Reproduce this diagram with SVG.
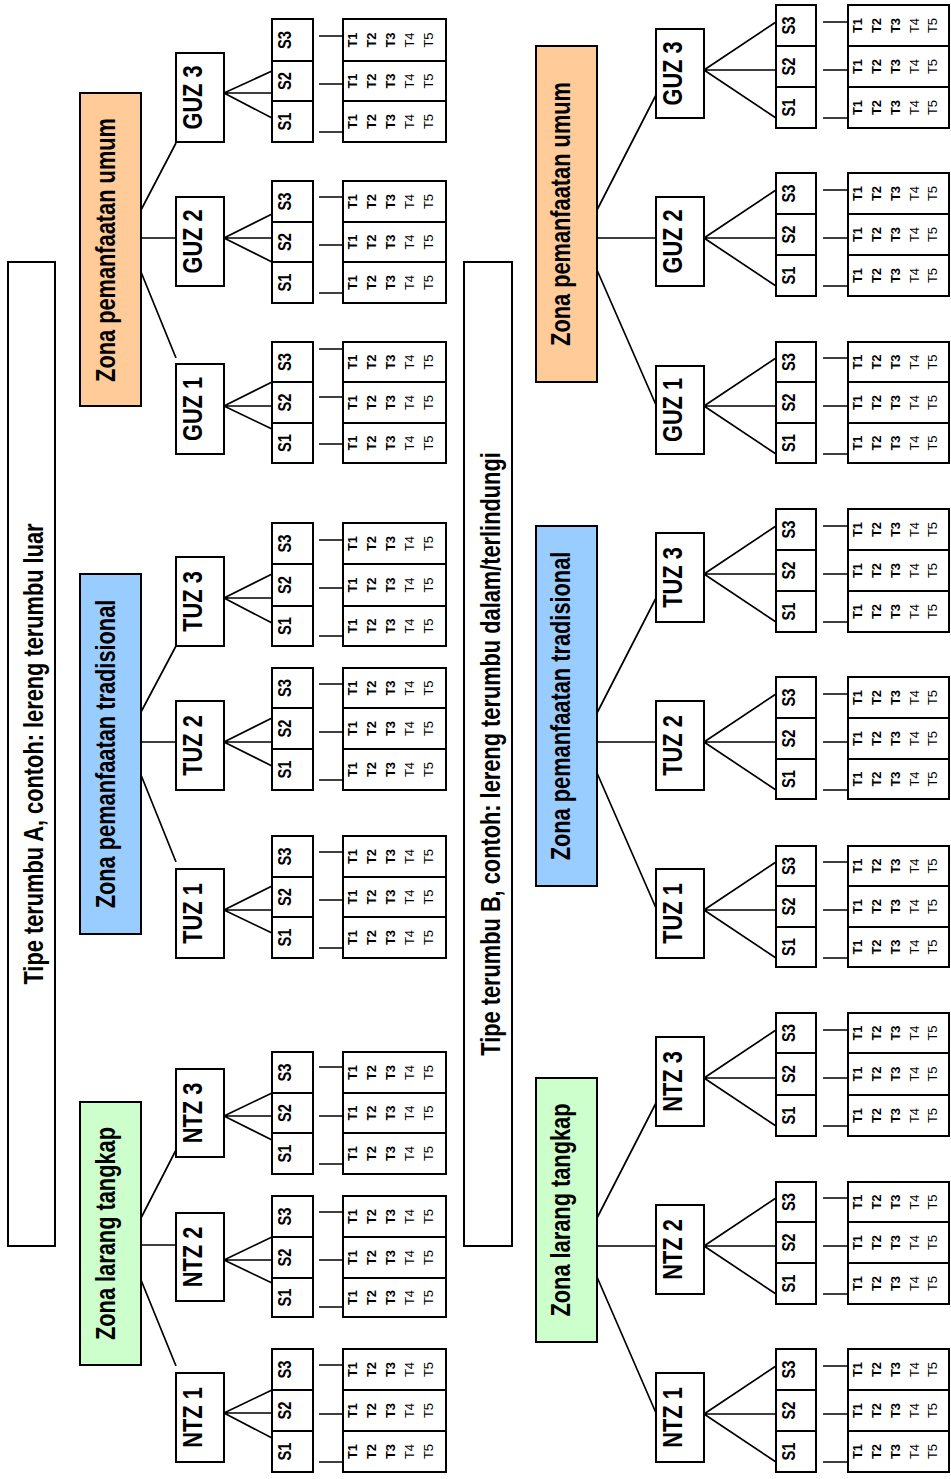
<svg xmlns="http://www.w3.org/2000/svg" width="951" height="1479" viewBox="0 0 951 1479">
<style>
.bx{fill:#fff;stroke:#000;stroke-width:2}
.zg{fill:#CCFFCC;stroke:#000;stroke-width:2}
.zb{fill:#99CCFF;stroke:#000;stroke-width:2}
.zo{fill:#FFCC99;stroke:#000;stroke-width:2}
.ln{stroke:#000;stroke-width:1.7;fill:none}
text{font-family:"Liberation Sans",Arial,Helvetica,sans-serif;fill:#000}
.L{font-size:21.8px;font-weight:bold;text-anchor:middle}
.S{font-size:14.7px;font-weight:bold;text-anchor:middle}
.T{font-size:13px;text-anchor:middle}
.b{font-weight:bold}
</style>
<rect width="951" height="1479" fill="#fff"/>
<g id="connectors" class="ln">
<path d="M141,210L176,143M141,238L176,238M141,272L176,358M141,712L176,646M141,742L176,742M141,775L176,862M141,1218L176,1150M141,1245L176,1245M141,1280L176,1366"/>
<path d="M224,93L272,71M224,93L272,93M224,93L272,118M224,238L272,214M224,238L272,238M224,238L272,262M224,406L272,382M224,406L272,406M224,406L272,429M224,598L272,574M224,598L272,598M224,598L272,623M224,742L272,718M224,742L272,742M224,742L272,766M224,910L272,886M224,910L272,910M224,910L272,933M224,1116L272,1093M224,1116L272,1116M224,1116L272,1140M224,1260L272,1237M224,1260L272,1260M224,1260L272,1283M224,1413L272,1390M224,1413L272,1413M224,1413L272,1438"/>
<path d="M319,36H343M319,84H343M319,132H343M319,197H343M319,245H343M319,293H343M319,349H343M319,397H343M319,444H343M319,540H343M319,588H343M319,636H343M319,684H343M319,732H343M319,780H343M319,852H343M319,900H343M319,948H343M319,1067H343M319,1116H343M319,1164H343M319,1212H343M319,1260H343M319,1307H343M319,1365H343M319,1414H343M319,1462H343"/>
<path d="M597,210L656,95M597,238L656,238M597,270L656,405M597,713L656,598M597,742L656,742M597,773L656,908M597,1218L656,1103M597,1246L656,1246M597,1277L656,1413"/>
<path d="M704,70L776,22M704,70L776,70M704,70L776,118M704,238L776,190M704,238L776,238M704,238L776,286M704,406L776,358M704,406L776,406M704,406L776,454M704,574L776,526M704,574L776,574M704,574L776,622M704,742L776,694M704,742L776,742M704,742L776,790M704,910L776,862M704,910L776,910M704,910L776,958M704,1078L776,1030M704,1078L776,1078M704,1078L776,1126M704,1246L776,1198M704,1246L776,1246M704,1246L776,1294M704,1414L776,1366M704,1414L776,1414M704,1414L776,1462"/>
<path d="M823,22H848M823,70H848M823,118H848M823,190H848M823,238H848M823,286H848M823,358H848M823,406H848M823,454H848M823,526H848M823,574H848M823,622H848M823,694H848M823,742H848M823,790H848M823,862H848M823,910H848M823,958H848M823,1030H848M823,1078H848M823,1126H848M823,1198H848M823,1246H848M823,1294H848M823,1366H848M823,1414H848M823,1462H848"/>
</g>
<g id="tipe-a"><rect class="bx" x="8" y="262" width="47" height="984"/><text class="L" transform="translate(43,754) scale(1.25,1) rotate(-90)">Tipe terumbu A, contoh: lereng terumbu luar</text></g>
<g id="tipe-b"><rect class="bx" x="464" y="262" width="48" height="984"/><text class="L" transform="translate(500,754) scale(1.25,1) rotate(-90)">Tipe terumbu B, contoh: lereng terumbu dalam/terlindungi</text></g>
<g id="a-zona-umum"><rect class="zo" x="80" y="93" width="61" height="313"/><text class="L" transform="translate(115,250) scale(1.25,1) rotate(-90)">Zona pemanfaatan umum</text></g>
<g id="a-zona-tradisional"><rect class="zb" x="80" y="574" width="61" height="360"/><text class="L" transform="translate(115,754) scale(1.25,1) rotate(-90)">Zona pemanfaatan tradisional</text></g>
<g id="a-zona-larang"><rect class="zg" x="80" y="1102" width="61" height="263"/><text class="L" transform="translate(115,1233.5) scale(1.25,1) rotate(-90)">Zona larang tangkap</text></g>
<g id="b-zona-umum"><rect class="zo" x="536" y="46" width="61" height="336"/><text class="L" transform="translate(570,214) scale(1.25,1) rotate(-90)">Zona pemanfaatan umum</text></g>
<g id="b-zona-tradisional"><rect class="zb" x="536" y="526" width="61" height="360"/><text class="L" transform="translate(570,706) scale(1.25,1) rotate(-90)">Zona pemanfaatan tradisional</text></g>
<g id="b-zona-larang"><rect class="zg" x="536" y="1078" width="61" height="264"/><text class="L" transform="translate(570,1210) scale(1.25,1) rotate(-90)">Zona larang tangkap</text></g>

<g id="a-guz3"><rect class="bx" x="176" y="53" width="48" height="89"/><text class="L" transform="translate(202,97.5) scale(1.25,1) rotate(-90)">GUZ 3</text></g>
<g id="a-guz2"><rect class="bx" x="176" y="197" width="48" height="89"/><text class="L" transform="translate(202,241.5) scale(1.25,1) rotate(-90)">GUZ 2</text></g>
<g id="a-guz1"><rect class="bx" x="176" y="364" width="48" height="90"/><text class="L" transform="translate(202,409) scale(1.25,1) rotate(-90)">GUZ 1</text></g>
<g id="a-tuz3"><rect class="bx" x="176" y="557" width="48" height="89"/><text class="L" transform="translate(202,601.5) scale(1.25,1) rotate(-90)">TUZ 3</text></g>
<g id="a-tuz2"><rect class="bx" x="176" y="701" width="48" height="89"/><text class="L" transform="translate(202,745.5) scale(1.25,1) rotate(-90)">TUZ 2</text></g>
<g id="a-tuz1"><rect class="bx" x="176" y="869" width="48" height="89"/><text class="L" transform="translate(202,913.5) scale(1.25,1) rotate(-90)">TUZ 1</text></g>
<g id="a-ntz3"><rect class="bx" x="176" y="1069" width="48" height="88"/><text class="L" transform="translate(202,1113) scale(1.25,1) rotate(-90)">NTZ 3</text></g>
<g id="a-ntz2"><rect class="bx" x="176" y="1213" width="48" height="88"/><text class="L" transform="translate(202,1257) scale(1.25,1) rotate(-90)">NTZ 2</text></g>
<g id="a-ntz1"><rect class="bx" x="176" y="1373" width="48" height="89"/><text class="L" transform="translate(202,1417.5) scale(1.25,1) rotate(-90)">NTZ 1</text></g>

<g id="b-guz3"><rect class="bx" x="656" y="29" width="48" height="89"/><text class="L" transform="translate(682,73.5) scale(1.25,1) rotate(-90)">GUZ 3</text></g>
<g id="b-guz2"><rect class="bx" x="656" y="197" width="48" height="89"/><text class="L" transform="translate(682,241.5) scale(1.25,1) rotate(-90)">GUZ 2</text></g>
<g id="b-guz1"><rect class="bx" x="656" y="366" width="48" height="88"/><text class="L" transform="translate(682,410) scale(1.25,1) rotate(-90)">GUZ 1</text></g>
<g id="b-tuz3"><rect class="bx" x="656" y="533" width="48" height="89"/><text class="L" transform="translate(682,577.5) scale(1.25,1) rotate(-90)">TUZ 3</text></g>
<g id="b-tuz2"><rect class="bx" x="656" y="701" width="48" height="89"/><text class="L" transform="translate(682,745.5) scale(1.25,1) rotate(-90)">TUZ 2</text></g>
<g id="b-tuz1"><rect class="bx" x="656" y="869" width="48" height="89"/><text class="L" transform="translate(682,913.5) scale(1.25,1) rotate(-90)">TUZ 1</text></g>
<g id="b-ntz3"><rect class="bx" x="656" y="1037" width="48" height="89"/><text class="L" transform="translate(682,1081.5) scale(1.25,1) rotate(-90)">NTZ 3</text></g>
<g id="b-ntz2"><rect class="bx" x="656" y="1205" width="48" height="89"/><text class="L" transform="translate(682,1249.5) scale(1.25,1) rotate(-90)">NTZ 2</text></g>
<g id="b-ntz1"><rect class="bx" x="656" y="1373" width="48" height="89"/><text class="L" transform="translate(682,1417.5) scale(1.25,1) rotate(-90)">NTZ 1</text></g>

<g id="a-guz3-s"><rect class="bx" x="272" y="19" width="41" height="42"/><rect class="bx" x="272" y="61" width="41" height="40"/><rect class="bx" x="272" y="101" width="41" height="41"/><text class="S" transform="translate(290.5,40) scale(1.2,1) rotate(-90)">S3</text><text class="S" transform="translate(290.5,81) scale(1.2,1) rotate(-90)">S2</text><text class="S" transform="translate(290.5,121.5) scale(1.2,1) rotate(-90)">S1</text></g>
<g id="a-guz2-s"><rect class="bx" x="272" y="181" width="41" height="41"/><rect class="bx" x="272" y="222" width="41" height="40"/><rect class="bx" x="272" y="262" width="41" height="41"/><text class="S" transform="translate(290.5,201.5) scale(1.2,1) rotate(-90)">S3</text><text class="S" transform="translate(290.5,242) scale(1.2,1) rotate(-90)">S2</text><text class="S" transform="translate(290.5,282.5) scale(1.2,1) rotate(-90)">S1</text></g>
<g id="a-guz1-s"><rect class="bx" x="272" y="342" width="41" height="40"/><rect class="bx" x="272" y="382" width="41" height="41"/><rect class="bx" x="272" y="423" width="41" height="40"/><text class="S" transform="translate(290.5,362) scale(1.2,1) rotate(-90)">S3</text><text class="S" transform="translate(290.5,402.5) scale(1.2,1) rotate(-90)">S2</text><text class="S" transform="translate(290.5,443) scale(1.2,1) rotate(-90)">S1</text></g>
<g id="a-tuz3-s"><rect class="bx" x="272" y="523" width="41" height="41"/><rect class="bx" x="272" y="564" width="41" height="42"/><rect class="bx" x="272" y="606" width="41" height="40"/><text class="S" transform="translate(290.5,543.5) scale(1.2,1) rotate(-90)">S3</text><text class="S" transform="translate(290.5,585) scale(1.2,1) rotate(-90)">S2</text><text class="S" transform="translate(290.5,626) scale(1.2,1) rotate(-90)">S1</text></g>
<g id="a-tuz2-s"><rect class="bx" x="272" y="668" width="41" height="40"/><rect class="bx" x="272" y="708" width="41" height="41"/><rect class="bx" x="272" y="749" width="41" height="41"/><text class="S" transform="translate(290.5,688) scale(1.2,1) rotate(-90)">S3</text><text class="S" transform="translate(290.5,728.5) scale(1.2,1) rotate(-90)">S2</text><text class="S" transform="translate(290.5,769.5) scale(1.2,1) rotate(-90)">S1</text></g>
<g id="a-tuz1-s"><rect class="bx" x="272" y="836" width="41" height="41"/><rect class="bx" x="272" y="877" width="41" height="40"/><rect class="bx" x="272" y="917" width="41" height="41"/><text class="S" transform="translate(290.5,856.5) scale(1.2,1) rotate(-90)">S3</text><text class="S" transform="translate(290.5,897) scale(1.2,1) rotate(-90)">S2</text><text class="S" transform="translate(290.5,937.5) scale(1.2,1) rotate(-90)">S1</text></g>
<g id="a-ntz3-s"><rect class="bx" x="272" y="1052" width="41" height="41"/><rect class="bx" x="272" y="1093" width="41" height="40"/><rect class="bx" x="272" y="1133" width="41" height="41"/><text class="S" transform="translate(290.5,1072.5) scale(1.2,1) rotate(-90)">S3</text><text class="S" transform="translate(290.5,1113) scale(1.2,1) rotate(-90)">S2</text><text class="S" transform="translate(290.5,1153.5) scale(1.2,1) rotate(-90)">S1</text></g>
<g id="a-ntz2-s"><rect class="bx" x="272" y="1196" width="41" height="41"/><rect class="bx" x="272" y="1237" width="41" height="41"/><rect class="bx" x="272" y="1278" width="41" height="39"/><text class="S" transform="translate(290.5,1216.5) scale(1.2,1) rotate(-90)">S3</text><text class="S" transform="translate(290.5,1257.5) scale(1.2,1) rotate(-90)">S2</text><text class="S" transform="translate(290.5,1297.5) scale(1.2,1) rotate(-90)">S1</text></g>
<g id="a-ntz1-s"><rect class="bx" x="272" y="1349" width="41" height="41"/><rect class="bx" x="272" y="1390" width="41" height="41"/><rect class="bx" x="272" y="1431" width="41" height="41"/><text class="S" transform="translate(290.5,1369.5) scale(1.2,1) rotate(-90)">S3</text><text class="S" transform="translate(290.5,1410.5) scale(1.2,1) rotate(-90)">S2</text><text class="S" transform="translate(290.5,1451.5) scale(1.2,1) rotate(-90)">S1</text></g>

<g id="b-guz3-s"><rect class="bx" x="776" y="5" width="40" height="41"/><rect class="bx" x="776" y="46" width="40" height="41"/><rect class="bx" x="776" y="87" width="40" height="41"/><text class="S" transform="translate(794.5,25.5) scale(1.2,1) rotate(-90)">S3</text><text class="S" transform="translate(794.5,66.5) scale(1.2,1) rotate(-90)">S2</text><text class="S" transform="translate(794.5,107.5) scale(1.2,1) rotate(-90)">S1</text></g>
<g id="b-guz2-s"><rect class="bx" x="776" y="173" width="40" height="41"/><rect class="bx" x="776" y="214" width="40" height="41"/><rect class="bx" x="776" y="255" width="40" height="41"/><text class="S" transform="translate(794.5,193.5) scale(1.2,1) rotate(-90)">S3</text><text class="S" transform="translate(794.5,234.5) scale(1.2,1) rotate(-90)">S2</text><text class="S" transform="translate(794.5,275.5) scale(1.2,1) rotate(-90)">S1</text></g>
<g id="b-guz1-s"><rect class="bx" x="776" y="342" width="40" height="40"/><rect class="bx" x="776" y="382" width="40" height="41"/><rect class="bx" x="776" y="423" width="40" height="40"/><text class="S" transform="translate(794.5,362) scale(1.2,1) rotate(-90)">S3</text><text class="S" transform="translate(794.5,402.5) scale(1.2,1) rotate(-90)">S2</text><text class="S" transform="translate(794.5,443) scale(1.2,1) rotate(-90)">S1</text></g>
<g id="b-tuz3-s"><rect class="bx" x="776" y="509" width="40" height="41"/><rect class="bx" x="776" y="550" width="40" height="41"/><rect class="bx" x="776" y="591" width="40" height="41"/><text class="S" transform="translate(794.5,529.5) scale(1.2,1) rotate(-90)">S3</text><text class="S" transform="translate(794.5,570.5) scale(1.2,1) rotate(-90)">S2</text><text class="S" transform="translate(794.5,611.5) scale(1.2,1) rotate(-90)">S1</text></g>
<g id="b-tuz2-s"><rect class="bx" x="776" y="677" width="40" height="41"/><rect class="bx" x="776" y="718" width="40" height="41"/><rect class="bx" x="776" y="759" width="40" height="40"/><text class="S" transform="translate(794.5,697.5) scale(1.2,1) rotate(-90)">S3</text><text class="S" transform="translate(794.5,738.5) scale(1.2,1) rotate(-90)">S2</text><text class="S" transform="translate(794.5,779) scale(1.2,1) rotate(-90)">S1</text></g>
<g id="b-tuz1-s"><rect class="bx" x="776" y="846" width="40" height="40"/><rect class="bx" x="776" y="886" width="40" height="41"/><rect class="bx" x="776" y="927" width="40" height="40"/><text class="S" transform="translate(794.5,866) scale(1.2,1) rotate(-90)">S3</text><text class="S" transform="translate(794.5,906.5) scale(1.2,1) rotate(-90)">S2</text><text class="S" transform="translate(794.5,947) scale(1.2,1) rotate(-90)">S1</text></g>
<g id="b-ntz3-s"><rect class="bx" x="776" y="1013" width="40" height="40"/><rect class="bx" x="776" y="1053" width="40" height="42"/><rect class="bx" x="776" y="1095" width="40" height="41"/><text class="S" transform="translate(794.5,1033) scale(1.2,1) rotate(-90)">S3</text><text class="S" transform="translate(794.5,1074) scale(1.2,1) rotate(-90)">S2</text><text class="S" transform="translate(794.5,1115.5) scale(1.2,1) rotate(-90)">S1</text></g>
<g id="b-ntz2-s"><rect class="bx" x="776" y="1182" width="40" height="40"/><rect class="bx" x="776" y="1222" width="40" height="41"/><rect class="bx" x="776" y="1263" width="40" height="41"/><text class="S" transform="translate(794.5,1202) scale(1.2,1) rotate(-90)">S3</text><text class="S" transform="translate(794.5,1242.5) scale(1.2,1) rotate(-90)">S2</text><text class="S" transform="translate(794.5,1283.5) scale(1.2,1) rotate(-90)">S1</text></g>
<g id="b-ntz1-s"><rect class="bx" x="776" y="1349" width="40" height="41"/><rect class="bx" x="776" y="1390" width="40" height="41"/><rect class="bx" x="776" y="1431" width="40" height="41"/><text class="S" transform="translate(794.5,1369.5) scale(1.2,1) rotate(-90)">S3</text><text class="S" transform="translate(794.5,1410.5) scale(1.2,1) rotate(-90)">S2</text><text class="S" transform="translate(794.5,1451.5) scale(1.2,1) rotate(-90)">S1</text></g>

<g id="a-guz3-t"><rect class="bx" x="343" y="19" width="103" height="42"/><rect class="bx" x="343" y="61" width="103" height="40"/><rect class="bx" x="343" y="101" width="103" height="41"/>
<text class="T" transform="translate(343,40) rotate(-90)"><tspan class="b" x="0" y="14">T1</tspan><tspan class="b" x="0" y="33">T2</tspan><tspan class="b" x="0" y="52">T3</tspan><tspan x="0" y="71">T4</tspan><tspan x="0" y="90">T5</tspan></text>
<text class="T" transform="translate(343,81) rotate(-90)"><tspan class="b" x="0" y="14">T1</tspan><tspan class="b" x="0" y="33">T2</tspan><tspan class="b" x="0" y="52">T3</tspan><tspan x="0" y="71">T4</tspan><tspan x="0" y="90">T5</tspan></text>
<text class="T" transform="translate(343,121.5) rotate(-90)"><tspan class="b" x="0" y="14">T1</tspan><tspan class="b" x="0" y="33">T2</tspan><tspan class="b" x="0" y="52">T3</tspan><tspan x="0" y="71">T4</tspan><tspan x="0" y="90">T5</tspan></text></g>
<g id="a-guz2-t"><rect class="bx" x="343" y="181" width="103" height="41"/><rect class="bx" x="343" y="222" width="103" height="40"/><rect class="bx" x="343" y="262" width="103" height="41"/>
<text class="T" transform="translate(343,201.5) rotate(-90)"><tspan class="b" x="0" y="14">T1</tspan><tspan class="b" x="0" y="33">T2</tspan><tspan class="b" x="0" y="52">T3</tspan><tspan x="0" y="71">T4</tspan><tspan x="0" y="90">T5</tspan></text>
<text class="T" transform="translate(343,242) rotate(-90)"><tspan class="b" x="0" y="14">T1</tspan><tspan class="b" x="0" y="33">T2</tspan><tspan class="b" x="0" y="52">T3</tspan><tspan x="0" y="71">T4</tspan><tspan x="0" y="90">T5</tspan></text>
<text class="T" transform="translate(343,282.5) rotate(-90)"><tspan class="b" x="0" y="14">T1</tspan><tspan class="b" x="0" y="33">T2</tspan><tspan class="b" x="0" y="52">T3</tspan><tspan x="0" y="71">T4</tspan><tspan x="0" y="90">T5</tspan></text></g>
<g id="a-guz1-t"><rect class="bx" x="343" y="342" width="103" height="40"/><rect class="bx" x="343" y="382" width="103" height="41"/><rect class="bx" x="343" y="423" width="103" height="40"/>
<text class="T" transform="translate(343,362) rotate(-90)"><tspan class="b" x="0" y="14">T1</tspan><tspan class="b" x="0" y="33">T2</tspan><tspan class="b" x="0" y="52">T3</tspan><tspan x="0" y="71">T4</tspan><tspan x="0" y="90">T5</tspan></text>
<text class="T" transform="translate(343,402.5) rotate(-90)"><tspan class="b" x="0" y="14">T1</tspan><tspan class="b" x="0" y="33">T2</tspan><tspan class="b" x="0" y="52">T3</tspan><tspan x="0" y="71">T4</tspan><tspan x="0" y="90">T5</tspan></text>
<text class="T" transform="translate(343,443) rotate(-90)"><tspan class="b" x="0" y="14">T1</tspan><tspan class="b" x="0" y="33">T2</tspan><tspan class="b" x="0" y="52">T3</tspan><tspan x="0" y="71">T4</tspan><tspan x="0" y="90">T5</tspan></text></g>
<g id="a-tuz3-t"><rect class="bx" x="343" y="523" width="103" height="41"/><rect class="bx" x="343" y="564" width="103" height="42"/><rect class="bx" x="343" y="606" width="103" height="40"/>
<text class="T" transform="translate(343,543.5) rotate(-90)"><tspan class="b" x="0" y="14">T1</tspan><tspan class="b" x="0" y="33">T2</tspan><tspan class="b" x="0" y="52">T3</tspan><tspan x="0" y="71">T4</tspan><tspan x="0" y="90">T5</tspan></text>
<text class="T" transform="translate(343,585) rotate(-90)"><tspan class="b" x="0" y="14">T1</tspan><tspan class="b" x="0" y="33">T2</tspan><tspan class="b" x="0" y="52">T3</tspan><tspan x="0" y="71">T4</tspan><tspan x="0" y="90">T5</tspan></text>
<text class="T" transform="translate(343,626) rotate(-90)"><tspan class="b" x="0" y="14">T1</tspan><tspan class="b" x="0" y="33">T2</tspan><tspan class="b" x="0" y="52">T3</tspan><tspan x="0" y="71">T4</tspan><tspan x="0" y="90">T5</tspan></text></g>
<g id="a-tuz2-t"><rect class="bx" x="343" y="668" width="103" height="40"/><rect class="bx" x="343" y="708" width="103" height="41"/><rect class="bx" x="343" y="749" width="103" height="41"/>
<text class="T" transform="translate(343,688) rotate(-90)"><tspan class="b" x="0" y="14">T1</tspan><tspan class="b" x="0" y="33">T2</tspan><tspan class="b" x="0" y="52">T3</tspan><tspan x="0" y="71">T4</tspan><tspan x="0" y="90">T5</tspan></text>
<text class="T" transform="translate(343,728.5) rotate(-90)"><tspan class="b" x="0" y="14">T1</tspan><tspan class="b" x="0" y="33">T2</tspan><tspan class="b" x="0" y="52">T3</tspan><tspan x="0" y="71">T4</tspan><tspan x="0" y="90">T5</tspan></text>
<text class="T" transform="translate(343,769.5) rotate(-90)"><tspan class="b" x="0" y="14">T1</tspan><tspan class="b" x="0" y="33">T2</tspan><tspan class="b" x="0" y="52">T3</tspan><tspan x="0" y="71">T4</tspan><tspan x="0" y="90">T5</tspan></text></g>
<g id="a-tuz1-t"><rect class="bx" x="343" y="836" width="103" height="41"/><rect class="bx" x="343" y="877" width="103" height="40"/><rect class="bx" x="343" y="917" width="103" height="41"/>
<text class="T" transform="translate(343,856.5) rotate(-90)"><tspan class="b" x="0" y="14">T1</tspan><tspan class="b" x="0" y="33">T2</tspan><tspan class="b" x="0" y="52">T3</tspan><tspan x="0" y="71">T4</tspan><tspan x="0" y="90">T5</tspan></text>
<text class="T" transform="translate(343,897) rotate(-90)"><tspan class="b" x="0" y="14">T1</tspan><tspan class="b" x="0" y="33">T2</tspan><tspan class="b" x="0" y="52">T3</tspan><tspan x="0" y="71">T4</tspan><tspan x="0" y="90">T5</tspan></text>
<text class="T" transform="translate(343,937.5) rotate(-90)"><tspan class="b" x="0" y="14">T1</tspan><tspan class="b" x="0" y="33">T2</tspan><tspan class="b" x="0" y="52">T3</tspan><tspan x="0" y="71">T4</tspan><tspan x="0" y="90">T5</tspan></text></g>
<g id="a-ntz3-t"><rect class="bx" x="343" y="1052" width="103" height="41"/><rect class="bx" x="343" y="1093" width="103" height="40"/><rect class="bx" x="343" y="1133" width="103" height="41"/>
<text class="T" transform="translate(343,1072.5) rotate(-90)"><tspan class="b" x="0" y="14">T1</tspan><tspan class="b" x="0" y="33">T2</tspan><tspan class="b" x="0" y="52">T3</tspan><tspan x="0" y="71">T4</tspan><tspan x="0" y="90">T5</tspan></text>
<text class="T" transform="translate(343,1113) rotate(-90)"><tspan class="b" x="0" y="14">T1</tspan><tspan class="b" x="0" y="33">T2</tspan><tspan class="b" x="0" y="52">T3</tspan><tspan x="0" y="71">T4</tspan><tspan x="0" y="90">T5</tspan></text>
<text class="T" transform="translate(343,1153.5) rotate(-90)"><tspan class="b" x="0" y="14">T1</tspan><tspan class="b" x="0" y="33">T2</tspan><tspan class="b" x="0" y="52">T3</tspan><tspan x="0" y="71">T4</tspan><tspan x="0" y="90">T5</tspan></text></g>
<g id="a-ntz2-t"><rect class="bx" x="343" y="1196" width="103" height="41"/><rect class="bx" x="343" y="1237" width="103" height="41"/><rect class="bx" x="343" y="1278" width="103" height="39"/>
<text class="T" transform="translate(343,1216.5) rotate(-90)"><tspan class="b" x="0" y="14">T1</tspan><tspan class="b" x="0" y="33">T2</tspan><tspan class="b" x="0" y="52">T3</tspan><tspan x="0" y="71">T4</tspan><tspan x="0" y="90">T5</tspan></text>
<text class="T" transform="translate(343,1257.5) rotate(-90)"><tspan class="b" x="0" y="14">T1</tspan><tspan class="b" x="0" y="33">T2</tspan><tspan class="b" x="0" y="52">T3</tspan><tspan x="0" y="71">T4</tspan><tspan x="0" y="90">T5</tspan></text>
<text class="T" transform="translate(343,1297.5) rotate(-90)"><tspan class="b" x="0" y="14">T1</tspan><tspan class="b" x="0" y="33">T2</tspan><tspan class="b" x="0" y="52">T3</tspan><tspan x="0" y="71">T4</tspan><tspan x="0" y="90">T5</tspan></text></g>
<g id="a-ntz1-t"><rect class="bx" x="343" y="1349" width="103" height="41"/><rect class="bx" x="343" y="1390" width="103" height="41"/><rect class="bx" x="343" y="1431" width="103" height="41"/>
<text class="T" transform="translate(343,1369.5) rotate(-90)"><tspan class="b" x="0" y="14">T1</tspan><tspan class="b" x="0" y="33">T2</tspan><tspan class="b" x="0" y="52">T3</tspan><tspan x="0" y="71">T4</tspan><tspan x="0" y="90">T5</tspan></text>
<text class="T" transform="translate(343,1410.5) rotate(-90)"><tspan class="b" x="0" y="14">T1</tspan><tspan class="b" x="0" y="33">T2</tspan><tspan class="b" x="0" y="52">T3</tspan><tspan x="0" y="71">T4</tspan><tspan x="0" y="90">T5</tspan></text>
<text class="T" transform="translate(343,1451.5) rotate(-90)"><tspan class="b" x="0" y="14">T1</tspan><tspan class="b" x="0" y="33">T2</tspan><tspan class="b" x="0" y="52">T3</tspan><tspan x="0" y="71">T4</tspan><tspan x="0" y="90">T5</tspan></text></g>

<g id="b-guz3-t"><rect class="bx" x="848" y="5" width="101" height="41"/><rect class="bx" x="848" y="46" width="101" height="41"/><rect class="bx" x="848" y="87" width="101" height="41"/>
<text class="T" transform="translate(848,25.5) rotate(-90)"><tspan class="b" x="0" y="14">T1</tspan><tspan class="b" x="0" y="33">T2</tspan><tspan class="b" x="0" y="52">T3</tspan><tspan x="0" y="70.5">T4</tspan><tspan x="0" y="89">T5</tspan></text>
<text class="T" transform="translate(848,66.5) rotate(-90)"><tspan class="b" x="0" y="14">T1</tspan><tspan class="b" x="0" y="33">T2</tspan><tspan class="b" x="0" y="52">T3</tspan><tspan x="0" y="70.5">T4</tspan><tspan x="0" y="89">T5</tspan></text>
<text class="T" transform="translate(848,107.5) rotate(-90)"><tspan class="b" x="0" y="14">T1</tspan><tspan class="b" x="0" y="33">T2</tspan><tspan class="b" x="0" y="52">T3</tspan><tspan x="0" y="70.5">T4</tspan><tspan x="0" y="89">T5</tspan></text></g>
<g id="b-guz2-t"><rect class="bx" x="848" y="173" width="101" height="41"/><rect class="bx" x="848" y="214" width="101" height="41"/><rect class="bx" x="848" y="255" width="101" height="41"/>
<text class="T" transform="translate(848,193.5) rotate(-90)"><tspan class="b" x="0" y="14">T1</tspan><tspan class="b" x="0" y="33">T2</tspan><tspan class="b" x="0" y="52">T3</tspan><tspan x="0" y="70.5">T4</tspan><tspan x="0" y="89">T5</tspan></text>
<text class="T" transform="translate(848,234.5) rotate(-90)"><tspan class="b" x="0" y="14">T1</tspan><tspan class="b" x="0" y="33">T2</tspan><tspan class="b" x="0" y="52">T3</tspan><tspan x="0" y="70.5">T4</tspan><tspan x="0" y="89">T5</tspan></text>
<text class="T" transform="translate(848,275.5) rotate(-90)"><tspan class="b" x="0" y="14">T1</tspan><tspan class="b" x="0" y="33">T2</tspan><tspan class="b" x="0" y="52">T3</tspan><tspan x="0" y="70.5">T4</tspan><tspan x="0" y="89">T5</tspan></text></g>
<g id="b-guz1-t"><rect class="bx" x="848" y="342" width="101" height="40"/><rect class="bx" x="848" y="382" width="101" height="41"/><rect class="bx" x="848" y="423" width="101" height="40"/>
<text class="T" transform="translate(848,362) rotate(-90)"><tspan class="b" x="0" y="14">T1</tspan><tspan class="b" x="0" y="33">T2</tspan><tspan class="b" x="0" y="52">T3</tspan><tspan x="0" y="70.5">T4</tspan><tspan x="0" y="89">T5</tspan></text>
<text class="T" transform="translate(848,402.5) rotate(-90)"><tspan class="b" x="0" y="14">T1</tspan><tspan class="b" x="0" y="33">T2</tspan><tspan class="b" x="0" y="52">T3</tspan><tspan x="0" y="70.5">T4</tspan><tspan x="0" y="89">T5</tspan></text>
<text class="T" transform="translate(848,443) rotate(-90)"><tspan class="b" x="0" y="14">T1</tspan><tspan class="b" x="0" y="33">T2</tspan><tspan class="b" x="0" y="52">T3</tspan><tspan x="0" y="70.5">T4</tspan><tspan x="0" y="89">T5</tspan></text></g>
<g id="b-tuz3-t"><rect class="bx" x="848" y="509" width="101" height="41"/><rect class="bx" x="848" y="550" width="101" height="41"/><rect class="bx" x="848" y="591" width="101" height="41"/>
<text class="T" transform="translate(848,529.5) rotate(-90)"><tspan class="b" x="0" y="14">T1</tspan><tspan class="b" x="0" y="33">T2</tspan><tspan class="b" x="0" y="52">T3</tspan><tspan x="0" y="70.5">T4</tspan><tspan x="0" y="89">T5</tspan></text>
<text class="T" transform="translate(848,570.5) rotate(-90)"><tspan class="b" x="0" y="14">T1</tspan><tspan class="b" x="0" y="33">T2</tspan><tspan class="b" x="0" y="52">T3</tspan><tspan x="0" y="70.5">T4</tspan><tspan x="0" y="89">T5</tspan></text>
<text class="T" transform="translate(848,611.5) rotate(-90)"><tspan class="b" x="0" y="14">T1</tspan><tspan class="b" x="0" y="33">T2</tspan><tspan class="b" x="0" y="52">T3</tspan><tspan x="0" y="70.5">T4</tspan><tspan x="0" y="89">T5</tspan></text></g>
<g id="b-tuz2-t"><rect class="bx" x="848" y="677" width="101" height="41"/><rect class="bx" x="848" y="718" width="101" height="41"/><rect class="bx" x="848" y="759" width="101" height="40"/>
<text class="T" transform="translate(848,697.5) rotate(-90)"><tspan class="b" x="0" y="14">T1</tspan><tspan class="b" x="0" y="33">T2</tspan><tspan class="b" x="0" y="52">T3</tspan><tspan x="0" y="70.5">T4</tspan><tspan x="0" y="89">T5</tspan></text>
<text class="T" transform="translate(848,738.5) rotate(-90)"><tspan class="b" x="0" y="14">T1</tspan><tspan class="b" x="0" y="33">T2</tspan><tspan class="b" x="0" y="52">T3</tspan><tspan x="0" y="70.5">T4</tspan><tspan x="0" y="89">T5</tspan></text>
<text class="T" transform="translate(848,779) rotate(-90)"><tspan class="b" x="0" y="14">T1</tspan><tspan class="b" x="0" y="33">T2</tspan><tspan class="b" x="0" y="52">T3</tspan><tspan x="0" y="70.5">T4</tspan><tspan x="0" y="89">T5</tspan></text></g>
<g id="b-tuz1-t"><rect class="bx" x="848" y="846" width="101" height="40"/><rect class="bx" x="848" y="886" width="101" height="41"/><rect class="bx" x="848" y="927" width="101" height="40"/>
<text class="T" transform="translate(848,866) rotate(-90)"><tspan class="b" x="0" y="14">T1</tspan><tspan class="b" x="0" y="33">T2</tspan><tspan class="b" x="0" y="52">T3</tspan><tspan x="0" y="70.5">T4</tspan><tspan x="0" y="89">T5</tspan></text>
<text class="T" transform="translate(848,906.5) rotate(-90)"><tspan class="b" x="0" y="14">T1</tspan><tspan class="b" x="0" y="33">T2</tspan><tspan class="b" x="0" y="52">T3</tspan><tspan x="0" y="70.5">T4</tspan><tspan x="0" y="89">T5</tspan></text>
<text class="T" transform="translate(848,947) rotate(-90)"><tspan class="b" x="0" y="14">T1</tspan><tspan class="b" x="0" y="33">T2</tspan><tspan class="b" x="0" y="52">T3</tspan><tspan x="0" y="70.5">T4</tspan><tspan x="0" y="89">T5</tspan></text></g>
<g id="b-ntz3-t"><rect class="bx" x="848" y="1013" width="101" height="40"/><rect class="bx" x="848" y="1053" width="101" height="42"/><rect class="bx" x="848" y="1095" width="101" height="41"/>
<text class="T" transform="translate(848,1033) rotate(-90)"><tspan class="b" x="0" y="14">T1</tspan><tspan class="b" x="0" y="33">T2</tspan><tspan class="b" x="0" y="52">T3</tspan><tspan x="0" y="70.5">T4</tspan><tspan x="0" y="89">T5</tspan></text>
<text class="T" transform="translate(848,1074) rotate(-90)"><tspan class="b" x="0" y="14">T1</tspan><tspan class="b" x="0" y="33">T2</tspan><tspan class="b" x="0" y="52">T3</tspan><tspan x="0" y="70.5">T4</tspan><tspan x="0" y="89">T5</tspan></text>
<text class="T" transform="translate(848,1115.5) rotate(-90)"><tspan class="b" x="0" y="14">T1</tspan><tspan class="b" x="0" y="33">T2</tspan><tspan class="b" x="0" y="52">T3</tspan><tspan x="0" y="70.5">T4</tspan><tspan x="0" y="89">T5</tspan></text></g>
<g id="b-ntz2-t"><rect class="bx" x="848" y="1182" width="101" height="40"/><rect class="bx" x="848" y="1222" width="101" height="41"/><rect class="bx" x="848" y="1263" width="101" height="41"/>
<text class="T" transform="translate(848,1202) rotate(-90)"><tspan class="b" x="0" y="14">T1</tspan><tspan class="b" x="0" y="33">T2</tspan><tspan class="b" x="0" y="52">T3</tspan><tspan x="0" y="70.5">T4</tspan><tspan x="0" y="89">T5</tspan></text>
<text class="T" transform="translate(848,1242.5) rotate(-90)"><tspan class="b" x="0" y="14">T1</tspan><tspan class="b" x="0" y="33">T2</tspan><tspan class="b" x="0" y="52">T3</tspan><tspan x="0" y="70.5">T4</tspan><tspan x="0" y="89">T5</tspan></text>
<text class="T" transform="translate(848,1283.5) rotate(-90)"><tspan class="b" x="0" y="14">T1</tspan><tspan class="b" x="0" y="33">T2</tspan><tspan class="b" x="0" y="52">T3</tspan><tspan x="0" y="70.5">T4</tspan><tspan x="0" y="89">T5</tspan></text></g>
<g id="b-ntz1-t"><rect class="bx" x="848" y="1349" width="101" height="41"/><rect class="bx" x="848" y="1390" width="101" height="41"/><rect class="bx" x="848" y="1431" width="101" height="41"/>
<text class="T" transform="translate(848,1369.5) rotate(-90)"><tspan class="b" x="0" y="14">T1</tspan><tspan class="b" x="0" y="33">T2</tspan><tspan class="b" x="0" y="52">T3</tspan><tspan x="0" y="70.5">T4</tspan><tspan x="0" y="89">T5</tspan></text>
<text class="T" transform="translate(848,1410.5) rotate(-90)"><tspan class="b" x="0" y="14">T1</tspan><tspan class="b" x="0" y="33">T2</tspan><tspan class="b" x="0" y="52">T3</tspan><tspan x="0" y="70.5">T4</tspan><tspan x="0" y="89">T5</tspan></text>
<text class="T" transform="translate(848,1451.5) rotate(-90)"><tspan class="b" x="0" y="14">T1</tspan><tspan class="b" x="0" y="33">T2</tspan><tspan class="b" x="0" y="52">T3</tspan><tspan x="0" y="70.5">T4</tspan><tspan x="0" y="89">T5</tspan></text></g>
</svg>
